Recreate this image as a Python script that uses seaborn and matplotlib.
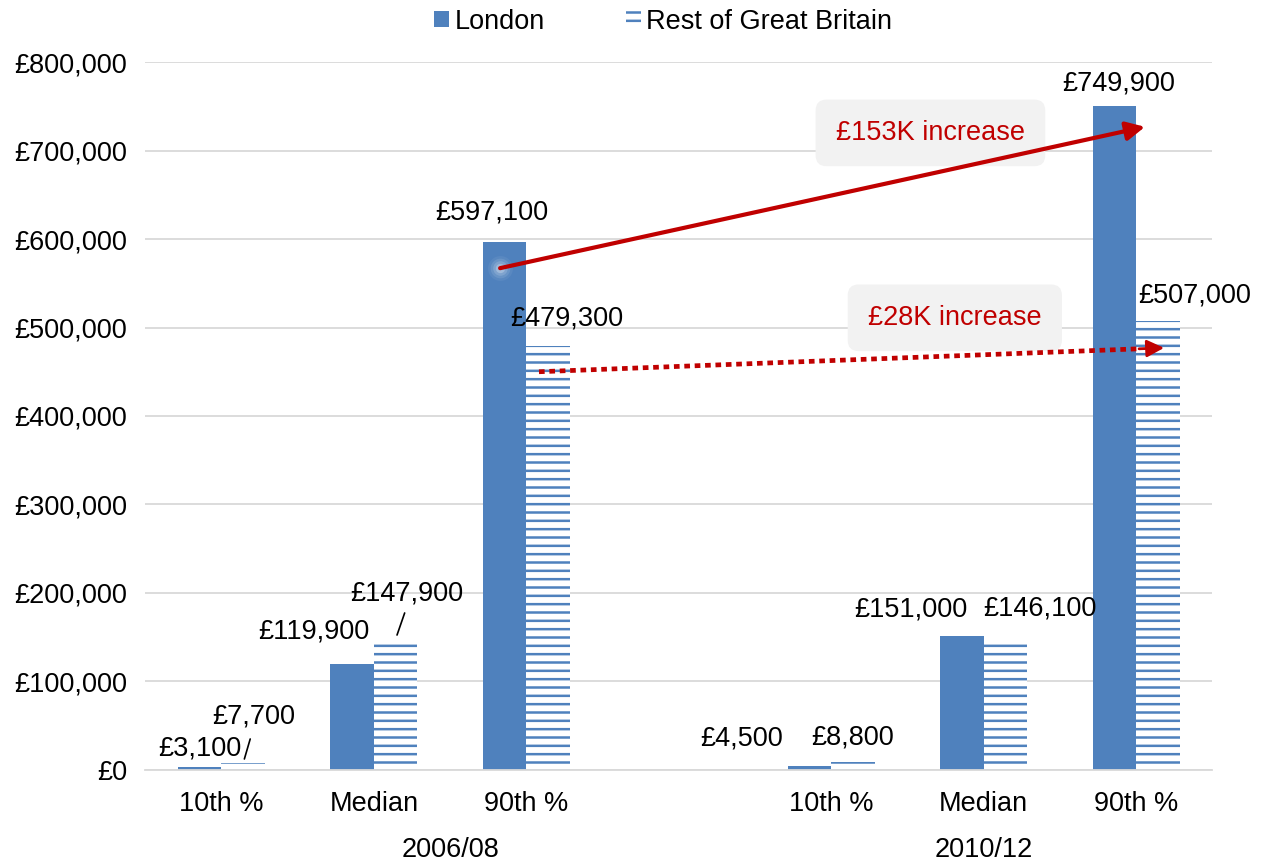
import matplotlib
matplotlib.use('Agg')
import matplotlib.pyplot as plt
import seaborn as sns
import pandas as pd
from matplotlib.patches import Patch
from matplotlib.ticker import FuncFormatter

# Data
slots = ['a10', 'aMed', 'a90', 'gap', 'b10', 'bMed', 'b90']
tick_labels = ['10th %', 'Median', '90th %', '', '10th %', 'Median', '90th %']
periods = ['2006/08', '2010/12']
data_slots = ['a10', 'aMed', 'a90', 'b10', 'bMed', 'b90']
london = [3100, 119900, 597100, 4500, 151000, 749900]
rest_gb = [7700, 147900, 479300, 8800, 146100, 507000]
series = ['London', 'Rest of Great Britain']

# label offsets in pixels from the top centre of each bar (London, Rest)
london_offsets = [(0, 19), (-38, 32), (-13, 29), (-68, 27), (-51, 27), (4, 23)]
rest_offsets = [(11, 46), (11, 45), (19, 27), (0, 25), (34, 32), (37, 26)]

blue = '#4f81bd'
red = '#c00000'
fs = 19.5

df = pd.DataFrame({
    'slot': data_slots * 2,
    'series': [series[0]] * 6 + [series[1]] * 6,
    'value': london + rest_gb,
})

sns.set_theme(style='white')
plt.rcParams['font.family'] = ['Liberation Sans', 'DejaVu Sans']
plt.rcParams['text.color'] = 'black'
plt.rcParams['xtick.color'] = 'black'
plt.rcParams['ytick.color'] = 'black'
plt.rcParams['hatch.linewidth'] = 1.8
plt.rcParams['hatch.color'] = blue

fig = plt.figure(figsize=(12.63, 8.63), dpi=100)
ax = fig.add_axes([0.115, 0.108, 0.845, 0.820])

sns.barplot(data=df, x='slot', y='value', hue='series', order=slots,
            hue_order=series, palette=[blue, blue], width=0.57,
            saturation=1, ax=ax, legend=False)

london_bars = list(ax.containers[0])
rest_bars = list(ax.containers[1])
for p in london_bars:
    p.set_linewidth(0)
for p in rest_bars:
    p.set_facecolor('white')
    p.set_edgecolor(blue)
    p.set_hatch('--')
    p.set_linewidth(0)

ax.set_ylim(0, 800000)
ax.set_xlim(-0.5, 6.5)
ax.yaxis.set_major_formatter(FuncFormatter(lambda v, _: f'£{int(v):,}'))
ax.set_yticks(range(0, 800001, 100000))
ax.yaxis.grid(True, color='#d9d9d9', lw=1.3)
ax.set_axisbelow(True)
for s in ['left', 'right', 'top']:
    ax.spines[s].set_visible(False)
ax.spines['bottom'].set_color('#d9d9d9')
ax.spines['bottom'].set_linewidth(1.3)
ax.set_xticks(range(len(slots)))
ax.set_xticklabels(tick_labels)
ax.tick_params(axis='x', length=0, pad=15, labelsize=fs, labelcolor='black')
ax.tick_params(axis='y', length=0, pad=13, labelsize=fs, labelcolor='black')
ax.set_xlabel('')
ax.set_ylabel('')

# group labels under the categories
ax.text(1.5, -0.113, periods[0], transform=ax.get_xaxis_transform(),
        ha='center', va='center', fontsize=fs)
ax.text(5, -0.113, periods[1], transform=ax.get_xaxis_transform(),
        ha='center', va='center', fontsize=fs)

# data labels
def bar_top(p):
    return p.get_x() + p.get_width() / 2, p.get_height()

for bars, vals, offs in [(london_bars, london, london_offsets),
                         (rest_bars, rest_gb, rest_offsets)]:
    for p, v, (dx, dy) in zip(bars, vals, offs):
        ax.annotate(f'£{v:,}', bar_top(p), xytext=(dx, dy),
                    textcoords='offset pixels', ha='center', va='center',
                    fontsize=fs, color='black')

# leader lines for the two shifted labels
for p, (a, b) in [(rest_bars[0], ((1, 2), (7, 24))),
                  (rest_bars[1], ((1, 6), (9, 26)))]:
    x, y = bar_top(p)
    ax.annotate('', xy=(x, y), xytext=(b[0], b[1]), textcoords='offset pixels',
                arrowprops=dict(arrowstyle='-', color='black', lw=1.2,
                                shrinkA=0, shrinkB=3))

# increase arrows
lx0, _ = bar_top(london_bars[2])
lx1, _ = bar_top(london_bars[5])
rx0, _ = bar_top(rest_bars[2])
rx1, _ = bar_top(rest_bars[5])
start1, end1 = (lx0 - 0.03, london[2] - 30000), (lx1 + 0.2, london[5] - 23000)
start2, end2 = (rx0 - 0.06, rest_gb[2] - 29300), (rx1 + 0.04, rest_gb[5] - 30000)

for pt in [start1, end1]:
    for s, a in [(320, 0.06), (200, 0.1), (110, 0.15), (45, 0.25)]:
        ax.scatter(*pt, s=s, color='white', alpha=a, lw=0, zorder=4)

ax.annotate('', xy=end1, xytext=start1,
            arrowprops=dict(arrowstyle='-|>', color=red, lw=3,
                            mutation_scale=28, shrinkA=0, shrinkB=0), zorder=5)

# dotted arrow: dotted shaft plus a short solid head
frac = 0.96
head_from = (start2[0] + frac * (end2[0] - start2[0]),
             start2[1] + frac * (end2[1] - start2[1]))
ax.plot([start2[0], head_from[0]], [start2[1], head_from[1]], color=red,
        lw=3.4, linestyle=(0, (1.2, 1.0)), dash_capstyle='butt', zorder=5)
ax.annotate('', xy=end2, xytext=head_from,
            arrowprops=dict(arrowstyle='-|>', color=red, lw=2,
                            mutation_scale=26, shrinkA=0, shrinkB=0), zorder=5)

ax.text(4.65, 720000, '£153K increase', ha='center', va='center',
        fontsize=fs, color=red, zorder=3,
        bbox=dict(boxstyle='round,pad=0.75,rounding_size=0.4', fc='#f2f2f2', ec='none'))
ax.text(4.81, 511000, '£28K increase', ha='center', va='center',
        fontsize=fs, color=red, zorder=3,
        bbox=dict(boxstyle='round,pad=0.75,rounding_size=0.4', fc='#f2f2f2', ec='none'))

handles = [Patch(facecolor=blue, lw=0, label=series[0]),
           Patch(facecolor='white', edgecolor=blue, hatch='--', lw=0, label=series[1])]
fig.legend(handles=handles, loc='center', bbox_to_anchor=(0.525, 0.975), ncol=2,
           frameon=False, fontsize=fs, handlelength=0.55, handleheight=0.55,
           handletextpad=0.2, columnspacing=3.0, labelcolor='black')

plt.savefig('out.png', dpi=100)
